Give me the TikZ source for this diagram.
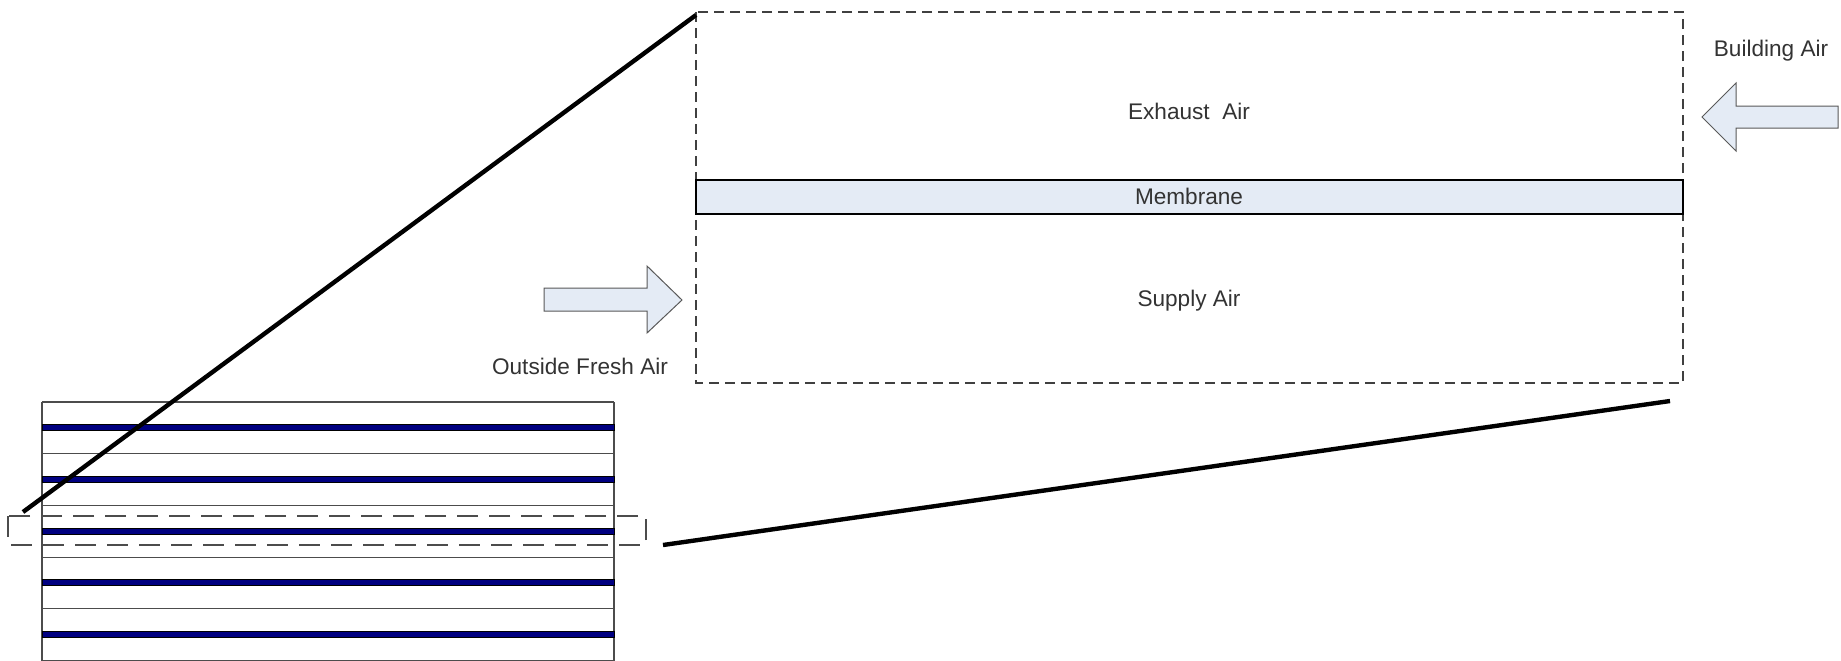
\documentclass[tikz,border=0pt]{standalone}
\usepackage{fontspec}
\setmainfont{Liberation Sans}
\usetikzlibrary{positioning}
\definecolor{airblue}{HTML}{E4EBF5}
\definecolor{bandnavy}{HTML}{000080}
\begin{document}
\begin{tikzpicture}
[x=0.5pt,y=-0.5pt,line width=0.6pt,
 lbl/.style={font=\fontsize{11.3}{13}\selectfont,text=black!80,inner sep=0pt,anchor=base},
 flowarrow/.style={draw=black!65,fill=airblue,line width=0.5pt},
 zoomline/.style={line width=2.2pt},
 bigdash/.style={draw=black!75,line width=0.7pt,dash pattern=on 5pt off 3pt},
 smalldash/.style={draw=black!70,line width=0.8pt,dash pattern=on 10.5pt off 5.5pt}]

\useasboundingbox (0,0) rectangle (1841,660);
\fill[white] (0,0) rectangle (1841,660);

% stack of channels
\draw[black!70] (42,402) -- (42,670); %left side
\draw[black!70] (614,402) -- (614,670); %right side
\foreach \k in {0,...,5}
  \draw[black!70] (42,{402+51.7*\k}) -- (614,{402+51.7*\k});
\foreach \k in {0,...,4}
  \filldraw[fill=bandnavy,draw=black,line width=0.3pt] (42,{424.5+51.7*\k}) rectangle (614,{430.5+51.7*\k});

\draw[smalldash] (8,516) rectangle (646,545); %one channel

% one channel, enlarged
\draw[bigdash] (696,12) rectangle (1683,383);
\filldraw[fill=airblue,draw=black,line width=0.8pt] (696,180) rectangle (1683,214); %membrane

\node[lbl] (exhaust) at (1189,119) {Exhaust\ \ Air};
\node[lbl] (membrane) at (1189,204) {Membrane};
\node[lbl] (supply) at (1189,306) {Supply Air};

% air streams
\filldraw[flowarrow] (544,288) -- (647,288) -- (647,266) -- (682,300) -- (647,333) -- (647,311) -- (544,311) -- cycle;
\filldraw[flowarrow] (1838,106) -- (1736,106) -- (1736,83) -- (1702,117) -- (1736,151) -- (1736,128) -- (1838,128) -- cycle;
\node[lbl] (fresh) at (580,374) {Outside Fresh Air};
\node[lbl] (building) at (1771,56) {Building Air};

% zoom lines
\coordinate (small nw) at (23,512);
\coordinate (big nw) at (696,15);
\coordinate (small se) at (663,545);
\coordinate (big se) at (1670,401);
\draw[zoomline] (small nw) -- (big nw);
\draw[zoomline] (small se) -- (big se);

\end{tikzpicture}
\end{document}
